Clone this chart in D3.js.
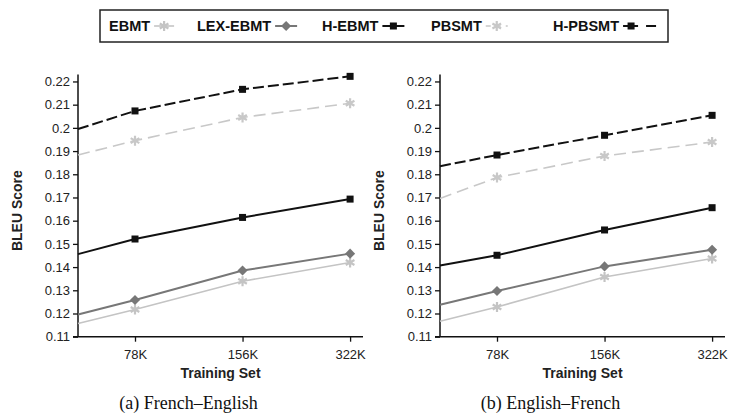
<!DOCTYPE html>
<html>
<head>
<meta charset="utf-8">
<script src="https://cdn.jsdelivr.net/npm/d3@7"></script>
<style>
  body { margin: 0; background: #fff; }
  svg { display: block; }
  .tick text { font-family: "Liberation Sans", Arial, sans-serif; }
</style>
</head>
<body>
<script>
/* ---------------- DATA ---------------- */
// category positions: the first point sits where the line meets the y axis
const xLabels = ["", "78K", "156K", "322K"];
const xVals = [0.47, 1, 2, 3];
const yTicks = [0.11, 0.12, 0.13, 0.14, 0.15, 0.16, 0.17, 0.18, 0.19, 0.2, 0.21, 0.22];

const seriesNames = ["EBMT", "LEX-EBMT", "H-EBMT", "PBSMT", "H-PBSMT"];

// (a) French-English
const frEn_EBMT    = [0.1157, 0.1217, 0.1339, 0.1420];
const frEn_LEX     = [0.1196, 0.1258, 0.1385, 0.1458];
const frEn_HEBMT   = [0.1456, 0.1521, 0.1614, 0.1693];
const frEn_PBSMT   = [0.1883, 0.1945, 0.2045, 0.2106];
const frEn_HPBSMT  = [0.1995, 0.2073, 0.2166, 0.2222];

// (b) English-French
const enFr_EBMT    = [0.1167, 0.1228, 0.1357, 0.1437];
const enFr_LEX     = [0.1238, 0.1297, 0.1403, 0.1475];
const enFr_HEBMT   = [0.1407, 0.1451, 0.1560, 0.1656];
const enFr_PBSMT   = [0.1696, 0.1786, 0.1879, 0.1939];
const enFr_HPBSMT  = [0.1835, 0.1883, 0.1968, 0.2054];

/* ---------------- STYLES ---------------- */
const styles = {
  "EBMT":     {color: "#c4c4c4", width: 1.6, dash: null,   marker: "star"},
  "LEX-EBMT": {color: "#777777", width: 2,   dash: null,   marker: "diamond"},
  "H-EBMT":   {color: "#111111", width: 2,   dash: null,   marker: "square"},
  "PBSMT":    {color: "#c8c8c8", width: 1.6, dash: "12,6", marker: "star"},
  "H-PBSMT":  {color: "#111111", width: 2,   dash: "11,4", marker: "square"}
};

const W = 744, H = 416;
const plotW = 285;
const yTop = 74.5, yBot = 336.7;

const svg = d3.select("body").append("svg")
  .attr("width", W).attr("height", H);

const y = d3.scaleLinear().domain([0.11, 0.223]).range([yBot, yTop]);

function drawMarker(g, type, cx, cy, color) {
  if (type === "square") {
    g.append("rect").attr("x", cx - 3.5).attr("y", cy - 3.5)
      .attr("width", 7).attr("height", 7).attr("fill", color);
  } else if (type === "diamond") {
    g.append("path").attr("d", d3.symbol(d3.symbolDiamond2, 65)())
      .attr("transform", `translate(${cx},${cy})`).attr("fill", color);
  } else {
    g.append("path").attr("d", d3.symbol(d3.symbolAsterisk, 70)())
      .attr("transform", `translate(${cx},${cy})`)
      .attr("stroke", color).attr("stroke-width", 2.2).attr("fill", "none");
  }
}

function drawPanel(left, data, caption) {
  const x = d3.scaleLinear().domain([0.47, 3.12]).range([left, left + plotW]);
  const g = svg.append("g");

  // y axis
  const yAxis = g.append("g").attr("transform", `translate(${left},0)`)
    .call(d3.axisLeft(y).tickValues(yTicks).tickSize(5).tickPadding(3)
      .tickFormat(d => String(+d.toFixed(2))));
  yAxis.select(".domain").attr("stroke", "#111").attr("stroke-width", 1.5)
    .attr("d", `M0,${yTop}V${yBot}`);
  yAxis.selectAll(".tick line").attr("stroke", "#111").attr("stroke-width", 1.3);
  yAxis.selectAll(".tick text").attr("font-size", 13).attr("fill", "#222");

  // x axis
  const xAxis = g.append("g").attr("transform", `translate(0,${yBot})`)
    .call(d3.axisBottom(x).tickValues(xVals.slice(1)).tickSize(5).tickPadding(8)
      .tickFormat((d, i) => xLabels[i + 1]));
  xAxis.select(".domain").attr("stroke", "#111").attr("stroke-width", 1.5)
    .attr("d", `M${left - 5},0H${left + plotW}`);
  xAxis.selectAll(".tick line").attr("stroke", "#111").attr("stroke-width", 1.3);
  xAxis.selectAll(".tick text").attr("font-size", 13).attr("fill", "#222");

  // lines
  const line = d3.line().x((d, i) => x(xVals[i])).y(d => y(d));
  seriesNames.forEach((name, k) => {
    const st = styles[name];
    g.append("path").datum(data[k])
      .attr("d", line)
      .attr("fill", "none")
      .attr("stroke", st.color)
      .attr("stroke-width", st.width)
      .attr("stroke-dasharray", st.dash);
    data[k].forEach((v, i) => {
      if (i > 0) drawMarker(g, st.marker, x(xVals[i]), y(v), st.color);
    });
  });

  // axis titles
  g.append("text")
    .attr("transform", `translate(${left - 56},${(yTop + yBot) / 2 + 5}) rotate(-90)`)
    .attr("text-anchor", "middle")
    .attr("font-family", "Liberation Sans, Arial, sans-serif")
    .attr("font-weight", "bold").attr("font-size", 14).attr("fill", "#222")
    .text("BLEU Score");
  g.append("text")
    .attr("x", left + plotW / 2).attr("y", 378)
    .attr("text-anchor", "middle")
    .attr("font-family", "Liberation Sans, Arial, sans-serif")
    .attr("font-weight", "bold").attr("font-size", 14).attr("fill", "#222")
    .text("Training Set");

  // caption
  g.append("text")
    .attr("x", left + plotW / 2 - 32).attr("y", 409)
    .attr("text-anchor", "middle")
    .attr("font-family", "Liberation Serif, Times New Roman, serif")
    .attr("font-size", 18).attr("fill", "#111")
    .text(caption);
}

drawPanel(78, [frEn_EBMT, frEn_LEX, frEn_HEBMT, frEn_PBSMT, frEn_HPBSMT], "(a) French\u2013English");
drawPanel(440, [enFr_EBMT, enFr_LEX, enFr_HEBMT, enFr_PBSMT, enFr_HPBSMT], "(b) English\u2013French");

/* ---------------- LEGEND ---------------- */
const legend = svg.append("g");
legend.append("rect")
  .attr("x", 100).attr("y", 10).attr("width", 568).attr("height", 32)
  .attr("fill", "#fff").attr("stroke", "#222").attr("stroke-width", 1.5);

const legendX = [109, 197, 322, 431, 553];
const sampleW = [20, 22, 22, 22, 36];
seriesNames.forEach((name, k) => {
  const st = styles[name];
  const t = legend.append("text")
    .attr("x", legendX[k]).attr("y", 31)
    .attr("font-family", "Liberation Sans, Arial, sans-serif")
    .attr("font-weight", "bold").attr("font-size", 14.5).attr("fill", "#111")
    .text(name);
  const tw = t.node().getComputedTextLength();
  const x0 = legendX[k] + tw + 4, x1 = x0 + sampleW[k];
  legend.append("line")
    .attr("x1", x0).attr("x2", x1).attr("y1", 26).attr("y2", 26)
    .attr("stroke", st.color).attr("stroke-width", st.width)
    .attr("stroke-dasharray", st.dash ? (name === "H-PBSMT" ? "15,8,10" : "5,5") : null);
  const mx = name === "H-PBSMT" ? x0 + 8 : (x0 + x1) / 2;
  drawMarker(legend, st.marker, mx, 26, st.color);
});
</script>
</body>
</html>
